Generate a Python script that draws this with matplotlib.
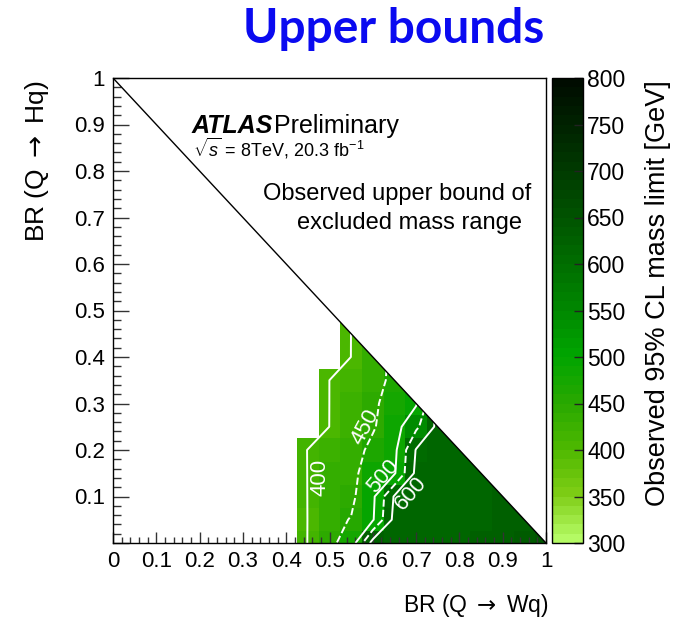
import numpy as np
import matplotlib
matplotlib.use("Agg")
import matplotlib.pyplot as plt
from matplotlib.colors import LinearSegmentedColormap, Normalize
from matplotlib.patches import Polygon
from matplotlib.ticker import FixedLocator

# ---------------------------------------------------------------------------
# Observed upper bound of the excluded mass range [GeV].
# One list per BR(Q -> Wq) bin centre, values ordered from BR(Q -> Hq) = 0
# upwards in steps of the bin width.
# ---------------------------------------------------------------------------
bin_width = 0.05
br_w_columns = [0.45, 0.50, 0.55, 0.60, 0.65, 0.70, 0.75, 0.80, 0.85, 0.90, 0.95, 1.00]
mass_limit_columns = [
    [410, 408, 410, 412, 415],
    [440, 438, 435, 430, 425, 405, 403, 402],
    [470, 452, 440, 435, 430, 425, 420, 415, 405, 403],
    [620, 495, 490, 480, 462, 445, 440, 435, 430],
    [615, 615, 605, 495, 488, 480, 475, 460],
    [615, 612, 612, 612, 603, 540, 495],
    [610, 610, 612, 612, 612, 612],
    [615, 612, 612, 612, 615],
    [620, 618, 615, 615],
    [625, 622, 620],
    [630, 628],
    [640],
]

contour_levels = [400, 450, 500, 550, 600]
contour_dashed = [False, True, False, True, False]
labelled_levels = [400, 450, 500, 600]

# palette anchors (mass in GeV -> colour)
palette_masses = [300, 350, 400, 450, 500, 550, 600, 650, 700, 750, 800]
palette_colours = ['#b4fa64', '#7dcc14', '#4cb800', '#28a800', '#00a500',
                   '#008800', '#006e00', '#005400', '#003c00', '#002400', '#000c00']
cbar_ticks = [300, 350, 400, 450, 500, 550, 600, 650, 700, 750, 800]

axis_ticks = [0.0, 0.1, 0.2, 0.3, 0.4, 0.5, 0.6, 0.7, 0.8, 0.9, 1.0]
x_tick_labels = ['0', '0.1', '0.2', '0.3', '0.4', '0.5', '0.6', '0.7', '0.8', '0.9', '1']
y_tick_labels = ['', '0.1', '0.2', '0.3', '0.4', '0.5', '0.6', '0.7', '0.8', '0.9', '1']

# ---------------------------------------------------------------------------
plt.rcParams['font.family'] = ['Liberation Sans', 'DejaVu Sans']
plt.rcParams['mathtext.fontset'] = 'custom'
plt.rcParams['mathtext.rm'] = 'Liberation Sans'
plt.rcParams['mathtext.it'] = 'Liberation Sans:italic'
plt.rcParams['mathtext.bf'] = 'Liberation Sans:bold'
plt.rcParams['mathtext.tt'] = 'DejaVu Sans'   # used for the arrow glyph

# full histogram on the BR grid (empty bins are zero)
n_bins = int(round(1.0 / bin_width)) + 1
centres = np.arange(n_bins) * bin_width
edges = np.concatenate([centres - bin_width / 2, [centres[-1] + bin_width / 2]])
Z = np.zeros((n_bins, n_bins))
for bw, column in zip(br_w_columns, mass_limit_columns):
    i = int(round(bw / bin_width))
    for j, m in enumerate(column):
        Z[j, i] = m

# grid used for the contours: columns that end on the kinematic boundary are
# edge-padded by one bin so the lines run cleanly into the BR(W)+BR(H)=1 edge
Zc = Z.copy()
for bw, column in zip(br_w_columns, mass_limit_columns):
    i = int(round(bw / bin_width))
    top = len(column) - 1
    if abs(bw + top * bin_width - 1.0) < 1e-6 and top + 1 < n_bins:
        Zc[top + 1, i] = column[-1]

lo, hi = palette_masses[0], palette_masses[-1]
cmap = LinearSegmentedColormap.from_list(
    'atlas_green',
    [((m - lo) / (hi - lo), c) for m, c in zip(palette_masses, palette_colours)],
    N=50)
norm = Normalize(vmin=lo, vmax=hi)

W, H = 674, 621
fig = plt.figure(figsize=(W / 100, H / 100), dpi=100)
ax = fig.add_axes([113 / W, 1 - 543 / H, 433 / W, 465 / H])
cax = fig.add_axes([552 / W, 1 - 543 / H, 31 / W, 465 / H])

# physical region BR(W) + BR(H) <= 1
phys = Polygon([(0, 0), (1, 0), (0, 1)], closed=True, transform=ax.transData,
               facecolor='none', edgecolor='none')

mesh = ax.pcolormesh(edges, edges, np.ma.masked_equal(Z, 0), cmap=cmap, norm=norm,
                     shading='flat', linewidth=0, antialiased=False)
mesh.set_clip_path(phys)

for lvl, dashed in zip(contour_levels, contour_dashed):
    cs = ax.contour(centres, centres, Zc, levels=[lvl], colors='white',
                    linewidths=1.4, linestyles='dashed' if dashed else 'solid')
    cs.set_clip_path(phys)

ax.plot([0, 1], [1, 0], color='black', lw=1.0, zorder=5)

# contour labels
label_pos = {400: (0.477, 0.142, 90), 450: (0.582, 0.250, 62),
             500: (0.624, 0.143, 49), 600: (0.688, 0.107, 49)}
for lvl in labelled_levels:
    x, y, rot = label_pos[lvl]
    ax.text(x, y, str(lvl), color='white', fontsize=16, rotation=rot,
            ha='center', va='center', rotation_mode='anchor', zorder=6)

ax.set_xlim(0, 1)
ax.set_ylim(0, 1)
ax.xaxis.set_major_locator(FixedLocator(axis_ticks))
ax.yaxis.set_major_locator(FixedLocator(axis_ticks))
ax.xaxis.set_minor_locator(FixedLocator(np.arange(0, 1.001, 0.02)))
ax.yaxis.set_minor_locator(FixedLocator(np.arange(0, 1.001, 0.02)))
ax.set_xticklabels(x_tick_labels)
ax.set_yticklabels(y_tick_labels)
ax.tick_params(which='both', direction='in', top=False, right=False,
               labelsize=16, width=1, color='#333333')
ax.tick_params(axis='x', which='major', length=8, pad=6)
ax.tick_params(axis='x', which='minor', length=4)
ax.tick_params(axis='y', which='major', length=11.5, pad=6)
ax.tick_params(axis='y', which='minor', length=6)
for s in ax.spines.values():
    s.set_linewidth(1.0)

cb = fig.colorbar(mesh, cax=cax)
cb.set_ticks(cbar_ticks)
cb.outline.set_linewidth(1.0)
cax.tick_params(direction='in', length=6.5, width=1, labelsize=16.5, pad=3,
                color='#222222')

# text
ax.text(0.182, 0.882, 'ATLAS', fontsize=18, fontweight='bold', fontstyle='italic',
        ha='left', va='baseline')
ax.text(0.372, 0.882, 'Preliminary', fontsize=18, ha='left', va='baseline')
ax.text(0.185, 0.832, r'$\sqrt{s}$ = 8TeV, 20.3 fb$^{-1}$', fontsize=13,
        ha='left', va='baseline')
ax.text(0.346, 0.738, 'Observed upper bound of', fontsize=17, ha='left', va='baseline')
ax.text(0.425, 0.675, 'excluded mass range', fontsize=17, ha='left', va='baseline')

fig.text(548 / W, 1 - 612 / H, r'BR (Q $\mathtt{\rightarrow}$ Wq)', fontsize=16.5,
         ha='right', va='baseline')
fig.text(37 / W, 1 - 80 / H, r'BR (Q $\mathtt{\rightarrow}$ Hq)', fontsize=19,
         rotation=90, ha='center', va='top')
fig.text(658 / W, 1 - 80 / H, 'Observed 95% CL mass limit [GeV]', fontsize=19.5,
         rotation=90, ha='center', va='top')

fig.text(394 / W, 1 - 43 / H, 'Upper bounds', fontsize=34.5, fontweight='bold',
         family='Lato', color='#0a0af0', ha='center', va='baseline')

fig.savefig('out.png', dpi=100)
